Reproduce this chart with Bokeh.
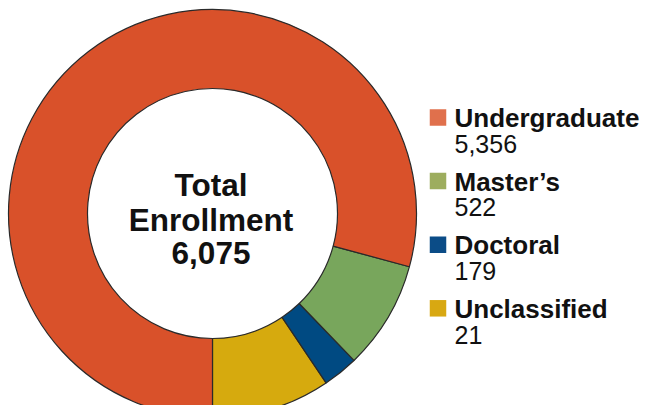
import math
from bokeh.plotting import figure
from bokeh.models import Range1d, ColumnDataSource
from bokeh.core.properties import value
from bokeh.embed import file_html
from bokeh.resources import INLINE

# ---- data ----
categories = ["Undergraduate", "Master\u2019s", "Doctoral", "Unclassified"]
counts = ["5,356", "522", "179", "21"]
total_label = ["Total", "Enrollment", "6,075"]
# share of the ring each slice occupies in the picture (percent)
slice_share = [79.2, 8.6, 2.8, 9.4]
ring_colors = ["#D9512A", "#78A65C", "#004A82", "#D6AA0E"]
legend_colors = ["#E0704C", "#9DAD5E", "#0B4C87", "#D8A812"]

W, H = 640, 405
REF_H = 413
def py(ref_y):
    return REF_H - ref_y

# vertical correction for how the svg backend places the text baseline
BASE_FIX = 0.31

p = figure(width=W, height=H, output_backend="svg", toolbar_location=None,
           x_range=Range1d(0, W), y_range=Range1d(REF_H - H, REF_H),
           x_axis_type=None, y_axis_type=None, min_border=0)
p.grid.visible = False
p.outline_line_color = None
p.background_fill_color = "white"
p.border_fill_color = "white"

cx, cy = 212, py(213)
r_out, r_in = 204, 125

# anticlockwise from the bottom: Unclassified, Doctoral, Master's, Undergraduate
order = [3, 2, 1, 0]
starts, ends, cols = [], [], []
a = -math.pi / 2
for i in order:
    span = slice_share[i] / 100.0 * 2 * math.pi
    starts.append(a)
    ends.append(a + span)
    cols.append(ring_colors[i])
    a += span

src = ColumnDataSource(dict(x=[cx] * 4, y=[cy] * 4, s=starts, e=ends, c=cols))
p.annular_wedge(x="x", y="y", inner_radius=r_in, outer_radius=r_out,
                start_angle="s", end_angle="e", fill_color="c",
                line_color="#2a2a2a", line_width=1.2, source=src)

# center text
cfs = 31.5
ctext_y = [py(b - BASE_FIX * cfs) for b in (194, 229, 262)]
p.text(x=[210.5] * 3, y=ctext_y, text=total_label,
       text_font=value("Liberation Sans"), text_font_style="bold",
       text_font_size=f"{cfs}px", text_align="center", text_baseline="alphabetic",
       text_color="#111111")

# legend
lfs, vfs = 26, 25
row0_label, row0_value, row_step = 125.5, 151.0, 63.6
sq_x, sq_size = 437.5, 16.5
label_y = [py(row0_label + k * row_step - BASE_FIX * lfs) for k in range(4)]
value_y = [py(row0_value + k * row_step - BASE_FIX * vfs) for k in range(4)]
sq_y = [py(row0_label - 8.5 + k * row_step) for k in range(4)]
p.rect(x=[sq_x] * 4, y=sq_y, width=sq_size, height=sq_size,
       fill_color=legend_colors, line_color=None)
p.text(x=[454] * 4, y=label_y, text=categories,
       text_font=value("Liberation Sans"), text_font_style="bold",
       text_font_size=f"{lfs}px", text_align="left", text_baseline="alphabetic",
       text_color="#111111")
p.text(x=[454] * 4, y=value_y, text=counts,
       text_font=value("Liberation Sans"), text_font_style="normal",
       text_font_size=f"{vfs}px", text_align="left", text_baseline="alphabetic",
       text_color="#111111")

open("out.html", "w").write(file_html(p, INLINE))
